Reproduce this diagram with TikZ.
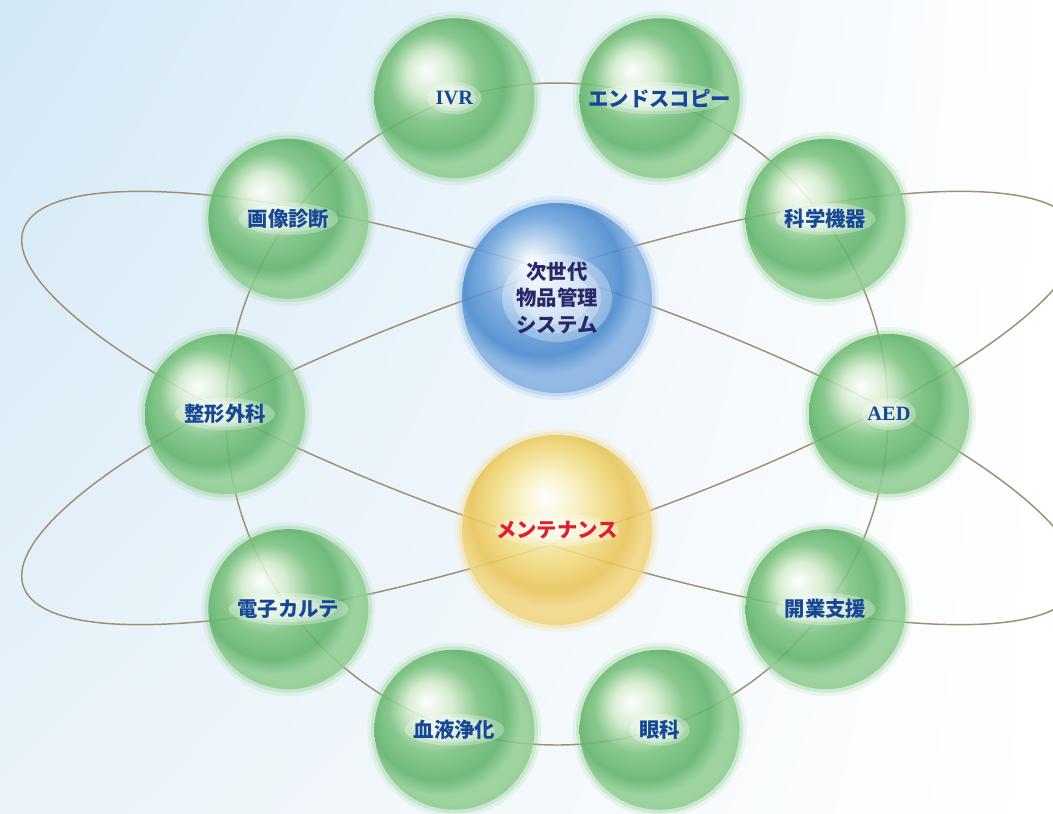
\documentclass[tikz,border=0pt]{standalone}
\usepackage{fontspec}
\usetikzlibrary{shadings}
\setmainfont{Liberation Serif}
\newfontfamily\jp{Noto Sans CJK JP}
\definecolor{bgblue}{RGB}{210,232,247}
\definecolor{bgpale}{RGB}{234,243,249}
\definecolor{orbitc}{RGB}{160,143,114}
\definecolor{gB}{RGB}{212,236,204}
\definecolor{gC}{RGB}{122,194,126}
\definecolor{gD}{RGB}{96,178,106}
\definecolor{gE}{RGB}{145,206,147}
\definecolor{bB}{RGB}{195,218,240}
\definecolor{bC}{RGB}{110,163,220}
\definecolor{bD}{RGB}{72,136,205}
\definecolor{bE}{RGB}{135,178,226}
\definecolor{yB}{RGB}{251,243,196}
\definecolor{yC}{RGB}{242,218,125}
\definecolor{yD}{RGB}{233,196,88}
\definecolor{yE}{RGB}{242,214,130}
\definecolor{labelblue}{RGB}{22,72,150}
\definecolor{navy}{RGB}{40,40,105}
\definecolor{maintred}{RGB}{225,30,45}
% sphere shadings, highlight up left
\pgfdeclareradialshading{gshade}{\pgfpoint{-9bp}{9bp}}{color(0bp)=(white); color(7bp)=(gB); color(14bp)=(gC); color(21bp)=(gD); color(25bp)=(gE); color(50bp)=(gE)}
\pgfdeclareradialshading{bshade}{\pgfpoint{-7bp}{10bp}}{color(0bp)=(white); color(6bp)=(bB); color(14bp)=(bC); color(21bp)=(bD); color(25bp)=(bE); color(50bp)=(bE)}
\pgfdeclareradialshading{yshade}{\pgfpoint{-3bp}{9bp}}{color(0bp)=(white); color(7bp)=(yB); color(15bp)=(yC); color(21bp)=(yD); color(25bp)=(yE); color(50bp)=(yE)}
\begin{document}
\begin{tikzpicture}[font=\jp\bfseries\fontsize{5.8}{7.6}\selectfont,
 orbit/.style={draw=orbitc, line width=0.42pt},
 ball/.style n args={3}{circle, inner sep=0pt, shade, fill opacity=0.88, text opacity=1,
  preaction={draw=#3, draw opacity=0.15, line width=4pt},
  preaction={draw=#3, draw opacity=0.3, line width=2pt},
  path picture={\foreach \s in {1,0.8,0.6} \fill[white, fill opacity=0.3] (path picture bounding box.center) ellipse ({\s*#1} and {\s*#2});}},
 greenball/.style={ball={#1}{0.16}{gE}, minimum size=1.6cm, shading=gshade, text=labelblue},
 blueball/.style={ball={0.55}{0.44}{bE}, minimum size=1.9cm, shading=bshade, text=navy, align=center},
 yellowball/.style={ball={0.62}{0.16}{yE}, minimum size=1.9cm, shading=yshade, text=maintred}]
\useasboundingbox (0,0) rectangle (10.53,-8.13);
\clip (0,0) rectangle (10.53,-8.13);
\shade[upper left=bgblue, upper right=white, lower left=bgpale, lower right=white] (0,0) rectangle (10.53,-8.13);
\coordinate (ring) at (5.57,-4.14);
\coordinate (core) at (5.50,-4.08);
% orbits
\draw[orbit] (ring) circle (3.31);
\draw[orbit, rotate around={-18.7:(core)}] (core) ellipse (5.56 and 1.3);
\draw[orbit, rotate around={18.7:(core)}] (core) ellipse (5.56 and 1.3);
% spheres
\node[blueball] (next) at (5.57,-2.98) {次世代\\物品管理\\システム};
\node[yellowball] (maint) at (5.57,-5.30) {メンテナンス};
\foreach \a/\n/\w/\t in {108/ivr/0.27/{\rmfamily\bfseries IVR}, 72/endo/0.66/エンドスコピー, 36/lab/0.5/科学機器,
  0/aed/0.27/{\rmfamily\bfseries AED}, -36/kaigyo/0.5/開業支援, -72/ganka/0.3/眼科, -108/ketsueki/0.5/血液浄化,
  -144/karte/0.6/電子カルテ, 180/seikei/0.5/整形外科, 144/gazo/0.5/画像診断}
  \node[greenball=\w] (\n) at ([shift={(\a:3.32)}]ring) {\t};
\end{tikzpicture}
\end{document}
